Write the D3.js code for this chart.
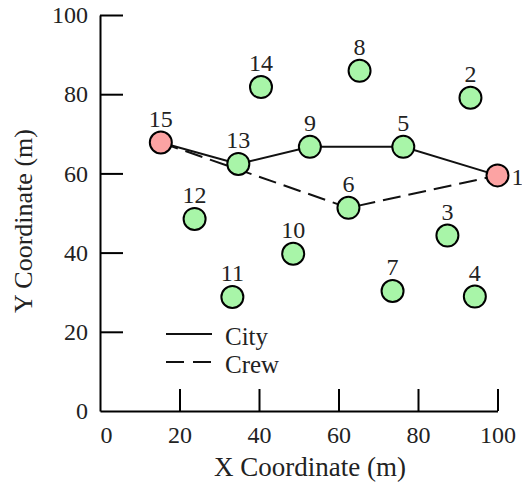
<!DOCTYPE html>
<html>
<head>
<meta charset="utf-8">
<script src="https://cdn.jsdelivr.net/npm/d3@7"></script>
<style>
  html, body { margin: 0; padding: 0; background: #fff; }
  svg { display: block; font-family: "Liberation Serif", "Times New Roman", serif; }
</style>
</head>
<body>
<svg id="chart" width="522" height="484"></svg>
<script>
// ---- data ----
const pointIds = [1, 2, 3, 4, 5, 6, 7, 8, 9, 10, 11, 12, 13, 14, 15];
const pointX   = [100, 93.2, 87.4, 94.3, 76.3, 62.5, 73.6, 65.3, 52.8, 48.6, 33.3, 23.8, 34.8, 40.5, 15.3];
const pointY   = [59.5, 79.1, 44.3, 28.9, 66.7, 51.3, 30.3, 85.9, 66.7, 39.7, 28.8, 48.5, 62.4, 81.8, 67.8];
const depotIds = [1, 15];
const cityRoute = [15, 13, 9, 5, 1];
const crewRoute = [15, 6, 1];
const seriesNames = ["City", "Crew"];
const xTicks = [0, 20, 40, 60, 80, 100];
const yTicks = [0, 20, 40, 60, 80, 100];

// ---- layout ----
const svg = d3.select("#chart");
const x = d3.scaleLinear().domain([0, 100]).range([100, 497.5]);
const y = d3.scaleLinear().domain([0, 100]).range([411, 15]);
const pts = pointIds.map((id, i) => ({ id, x: pointX[i], y: pointY[i] }));
const byId = new Map(pts.map(p => [p.id, p]));

// axes
const xAxis = d3.axisBottom(x).tickValues(xTicks).tickSizeInner(-22).tickSizeOuter(0).tickPadding(15);
const yAxis = d3.axisLeft(y).tickValues(yTicks).tickSizeInner(-23).tickSizeOuter(0).tickPadding(12);

const gx = svg.append("g").attr("transform", "translate(0,411)").call(xAxis);
const gy = svg.append("g").attr("transform", "translate(100,0)").call(yAxis);
[gx, gy].forEach(g => {
  g.attr("font-family", null);
  g.selectAll("path.domain").attr("stroke", "#000").attr("stroke-width", 2);
  g.selectAll(".tick line").attr("stroke", "#000").attr("stroke-width", 2);
  g.selectAll(".tick text").attr("font-size", 24).attr("fill", "#222")
    .attr("font-family", '"Liberation Serif", "Times New Roman", serif');
});
gx.selectAll(".tick").filter(d => d === 0).select("line").remove();
gx.selectAll(".tick").filter(d => d === 0).select("text").attr("dx", 6);
gy.selectAll(".tick").filter(d => d === 0).select("line").remove();

// axis titles
svg.append("text").attr("x", 310).attr("y", 476).attr("text-anchor", "middle")
  .attr("font-size", 27).attr("fill", "#222").text("X Coordinate (m)");
svg.append("text").attr("transform", "translate(32,221) rotate(-90)").attr("text-anchor", "middle")
  .attr("font-size", 26).attr("fill", "#222").text("Y Coordinate (m)");

// routes
const line = d3.line().x(p => x(p.x)).y(p => y(p.y));
svg.append("path").datum(cityRoute.map(id => byId.get(id)))
  .attr("d", line).attr("fill", "none").attr("stroke", "#111").attr("stroke-width", 2);
svg.append("path").datum(crewRoute.map(id => byId.get(id)))
  .attr("d", line).attr("fill", "none").attr("stroke", "#111").attr("stroke-width", 2)
  .attr("stroke-dasharray", "18,8");

// points
svg.append("g").selectAll("circle").data(pts).join("circle")
  .attr("cx", p => x(p.x)).attr("cy", p => y(p.y)).attr("r", 11)
  .attr("fill", p => depotIds.includes(p.id) ? "#fca3a3" : "#a8f5a8")
  .attr("stroke", "#000").attr("stroke-width", 2);

// point labels
svg.append("g").selectAll("text").data(pts).join("text")
  .attr("x", p => p.id === 1 ? x(p.x) + 14 : x(p.x))
  .attr("y", p => p.id === 1 ? y(p.y) + 10 : y(p.y) - 16)
  .attr("text-anchor", p => p.id === 1 ? "start" : "middle")
  .attr("font-size", 24).attr("fill", "#222")
  .text(p => p.id);

// legend
const legend = svg.append("g");
seriesNames.forEach((name, i) => {
  const ly = 334 + i * 28;
  legend.append("line").attr("x1", 166).attr("x2", 212).attr("y1", ly).attr("y2", ly)
    .attr("stroke", "#111").attr("stroke-width", 2)
    .attr("stroke-dasharray", i === 1 ? "18,9" : null);
  legend.append("text").attr("x", 225).attr("y", ly + 11)
    .attr("font-size", 25).attr("fill", "#222").text(name);
});
</script>
</body>
</html>
